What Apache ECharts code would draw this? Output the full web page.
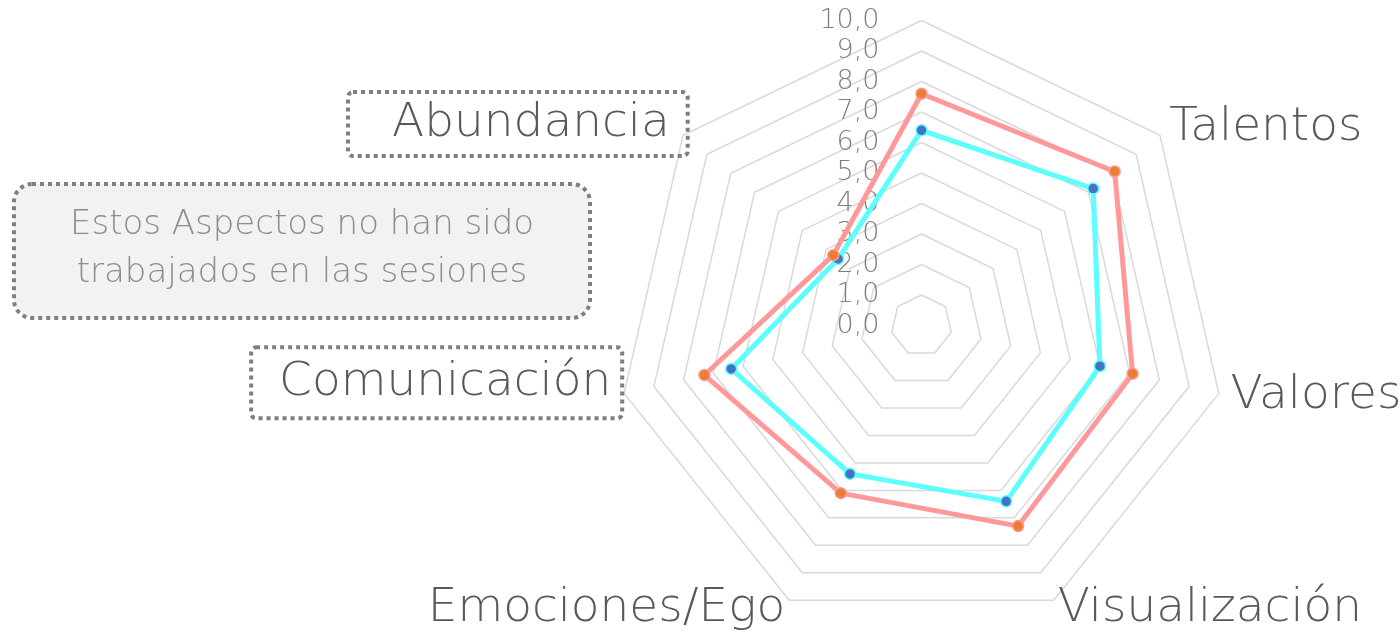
<!DOCTYPE html>
<html>
<head>
<meta charset="utf-8">
<script src="https://cdn.jsdelivr.net/npm/echarts@6/dist/echarts.min.js"></script>
<style>
  html, body { margin: 0; padding: 0; background: #ffffff; }
  #chart { width: 1400px; height: 635px; }
</style>
</head>
<body>
<div id="chart"></div>
<script>
// Indicators in ECharts order (counter-clockwise starting at the top)
var categories = ['', 'Abundancia', 'Comunicación', 'Emociones/Ego', 'Visualización', 'Valores', 'Talentos'];
var seriesRed = [7.6, 3.7, 7.3, 6.1, 7.3, 7.1, 8.1];
var seriesCyan = [6.4, 3.5, 6.4, 5.4, 6.4, 6.0, 7.2];
var axisMax = 10;
var noteText = ['Estos Aspectos no han sido', 'trabajados en las sesiones'];

var FONT = '"DejaVu Sans", sans-serif';

var indicators = categories.map(function (name, i) {
  var ind = { name: name, min: 0, max: axisMax };
  if (i === 0) {
    ind.axisLabel = {
      show: true,
      margin: 42,
      color: '#7f7f7f',
      fontFamily: FONT,
      fontWeight: 200,
      fontSize: 27,
      formatter: function (v) { return v.toFixed(1).replace('.', ','); }
    };
  }
  if (name === 'Abundancia') ind.nameGap = -6;
  if (name === 'Comunicación') ind.nameGap = 2;
  if (name === 'Visualización' || name === 'Emociones/Ego') ind.nameGap = 9;
  return ind;
});

var chart = echarts.init(document.getElementById('chart'), null, { renderer: 'canvas' });
chart.setOption({
  backgroundColor: '#ffffff',
  animation: false,
  radar: {
    center: [921.5, 325.5],
    radius: 305,
    startAngle: 90,
    shape: 'polygon',
    splitNumber: 10,
    nameGap: 12,
    indicator: indicators,
    axisLine: { show: false },
    axisTick: { show: false },
    axisLabel: { show: false },
    splitArea: { show: false },
    splitLine: { lineStyle: { color: '#d9d9d9', width: 1.5 } },
    axisName: {
      color: '#595959',
      fontFamily: FONT,
      fontWeight: 200,
      fontSize: 47,
      formatter: function (name) {
        if (name === 'Abundancia') return '{boxA|' + name + '}\n{spA| }';
        if (name === 'Comunicación') return '{boxC|' + name + '}\n{spC| }';
        return name;
      },
      rich: {
        boxA: {
          color: '#595959', fontFamily: FONT, fontWeight: 200, fontSize: 47,
          lineHeight: 54, padding: [8, 18, 9, 44],
          borderColor: '#7f7f7f', borderWidth: 4, borderType: 'dotted', borderRadius: 5
        },
        spA: { fontSize: 1, lineHeight: 30 },
        boxC: {
          color: '#595959', fontFamily: FONT, fontWeight: 200, fontSize: 47,
          lineHeight: 66, padding: [12, 11, 12, 28],
          borderColor: '#7f7f7f', borderWidth: 4, borderType: 'dotted', borderRadius: 5
        },
        spC: { fontSize: 1, lineHeight: 22 }
      }
    }
  },
  graphic: [{
    type: 'group',
    left: 12,
    top: 182,
    children: [{
      type: 'rect',
      shape: { x: 0, y: 0, width: 576, height: 134, r: 18 },
      style: { fill: '#f2f2f2', stroke: '#7f7f7f', lineWidth: 4, lineDash: [4, 4] }
    }, {
      type: 'text',
      x: 288, y: 65,
      style: {
        text: noteText.join('\n'),
        align: 'center', verticalAlign: 'middle',
        fill: '#8c8c8c',
        font: '200 34px ' + FONT,
        lineHeight: 48
      }
    }]
  }],
  series: [{
    type: 'radar',
    z: 2,
    data: [{
      value: seriesCyan,
      name: 'Serie 2',
      symbol: 'circle',
      symbolSize: 11,
      lineStyle: { color: '#5cffff', width: 5 },
      itemStyle: { color: '#4472c4', borderColor: '#5cffff', borderWidth: 1.5 }
    }, {
      value: seriesRed,
      name: 'Serie 1',
      symbol: 'circle',
      symbolSize: 11,
      lineStyle: { color: '#ff9999', width: 5 },
      itemStyle: { color: '#ed7d31', borderColor: '#ff9999', borderWidth: 1.5 }
    }]
  }]
});
</script>
</body>
</html>
